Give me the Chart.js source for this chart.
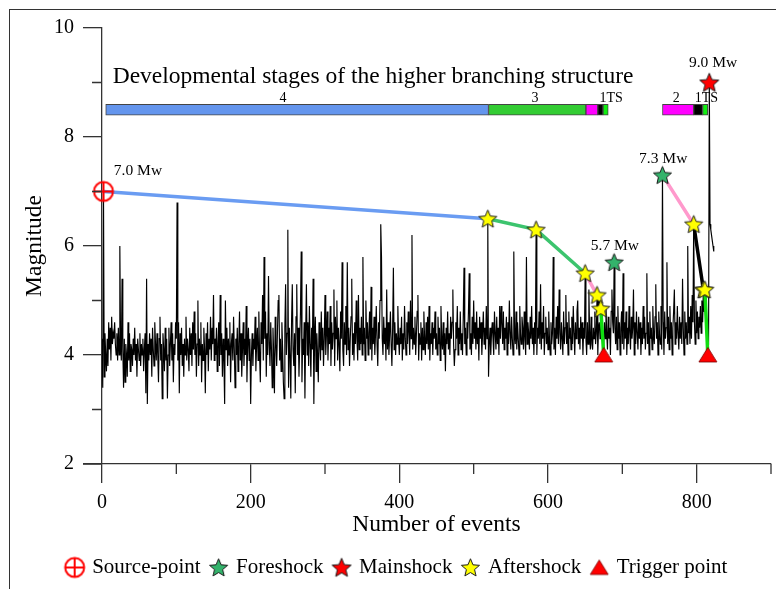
<!DOCTYPE html>
<html><head><meta charset="utf-8">
<script src="https://cdn.jsdelivr.net/npm/chart.js@4/dist/chart.umd.min.js"></script>
<style>
html,body{margin:0;padding:0;background:#fff;overflow:hidden}
#wrap{position:relative;width:776px;height:589px;overflow:hidden}
#frame{position:absolute;left:9px;top:9px;width:900px;height:900px;border-top:1px solid #333;border-left:1px solid #333}
canvas{position:absolute;left:0;top:0}
</style></head><body>
<div id="wrap"><div id="frame"></div><canvas id="c" width="776" height="589"></canvas></div>
<script>
// ---- magnitude of each event (index = event number) ----
const eventMagnitudes = [
4.3,3.4,7.0,3.6,4.4,4.0,3.7,4.3,3.8,4.6,4.1,4.5,3.9,4.7,4.2,4.4,4.3,4.6,4.2,4.0,4.4,3.9,4.5,4.0,6.0,
4.2,3.9,5.4,4.1,3.4,4.3,3.5,4.2,4.0,3.6,4.6,3.9,4.4,3.7,4.2,4.1,3.8,4.3,4.0,4.5,3.9,4.2,3.6,4.3,4.1,
3.9,4.4,3.8,4.2,4.0,4.3,3.7,4.1,4.4,3.3,5.4,3.1,4.2,3.9,4.4,4.0,4.3,3.6,4.5,4.1,3.8,4.6,4.2,3.9,4.4,
4.0,3.5,4.3,4.7,3.9,4.2,3.2,4.4,4.1,3.7,4.5,3.9,4.3,3.2,4.0,4.5,3.8,4.2,4.6,3.9,4.4,3.5,4.2,4.0,4.6,
4.3,6.8,3.9,4.6,3.3,4.4,4.0,4.5,3.8,4.2,3.6,4.3,4.0,4.7,3.9,4.3,4.1,3.7,4.5,4.0,4.4,3.8,4.6,4.1,4.8,
4.0,4.4,3.6,4.2,5.0,3.8,4.3,4.0,4.6,3.5,4.2,3.9,4.5,4.1,3.3,4.4,4.0,4.6,3.7,4.3,4.1,4.7,3.9,4.5,4.2,
5.1,3.9,4.3,4.0,4.5,3.7,4.2,4.6,3.8,5.1,4.0,4.4,3.6,4.3,3.9,3.1,5.0,4.1,4.5,3.8,4.3,4.0,4.6,3.5,4.2,
4.4,3.9,4.7,4.1,3.4,4.3,4.0,4.5,3.7,4.2,4.8,3.9,4.4,3.6,4.1,4.6,3.8,4.3,4.0,4.9,3.5,4.2,4.5,3.9,4.3,
3.1,4.0,4.4,3.8,4.3,4.1,4.7,3.7,4.2,4.5,3.9,4.8,4.0,3.5,4.6,4.2,5.1,3.9,5.8,4.3,4.8,3.6,4.4,4.0,5.45,
4.2,3.8,4.6,4.1,3.4,4.5,4.0,3.3,4.7,4.2,3.8,4.4,5.0,5.1,3.9,4.3,3.7,4.6,4.1,3.5,3.2,4.5,5.3,4.0,4.4,
6.3,3.4,4.5,4.0,3.2,4.6,5.3,4.1,3.8,4.4,3.3,4.7,5.3,4.0,4.5,3.6,4.2,4.8,5.9,3.5,4.3,4.0,4.6,3.2,4.4,
5.3,4.0,4.6,3.8,4.9,4.2,3.6,4.5,4.1,5.4,3.1,4.3,4.7,3.7,4.4,4.0,3.5,4.6,4.2,3.9,4.8,4.1,4.5,3.8,4.3,
5.1,4.0,4.4,4.8,3.9,4.5,4.2,4.9,3.8,4.6,4.1,4.4,5.2,3.8,4.7,4.3,5.0,3.9,4.5,4.2,3.7,4.8,4.3,5.7,4.1,
3.8,4.6,4.2,4.9,4.0,5.7,4.1,4.5,3.8,4.3,4.7,5.4,4.0,4.4,3.9,4.6,4.2,5.0,4.3,3.9,5.1,4.1,4.5,4.2,4.7,
4.0,5.8,4.2,4.5,3.9,5.0,4.3,4.6,4.0,4.4,4.8,4.1,5.25,3.9,4.5,4.2,4.7,4.0,4.4,4.9,4.2,3.8,4.6,4.3,5.0,
6.4,5.8,4.3,4.0,4.7,4.2,4.5,3.9,5.2,4.1,4.6,4.0,4.4,4.8,4.2,3.8,4.5,5.6,4.1,4.6,4.0,4.4,4.2,4.9,4.3,
4.0,4.5,4.2,4.7,3.9,4.4,4.1,4.9,4.3,4.0,4.6,4.2,4.8,4.4,4.0,5.0,4.3,6.2,4.1,4.5,4.2,4.7,4.0,4.4,4.8,
5.1,3.9,4.4,4.2,4.6,3.9,4.5,4.1,4.8,4.3,4.0,4.6,4.2,4.7,4.1,4.9,3.9,4.4,4.2,4.6,4.0,4.5,4.3,4.8,4.1,
4.4,4.0,4.7,4.2,4.5,3.9,4.9,4.3,4.1,4.6,4.0,4.4,3.7,4.5,4.2,4.8,4.1,4.4,4.0,4.7,4.3,4.6,5.2,4.2,3.8,
4.1,4.6,4.3,4.9,4.0,4.5,4.2,4.8,4.1,4.4,4.0,4.7,5.6,4.2,4.5,4.0,4.6,4.3,4.8,5.5,4.1,4.4,4.0,4.7,4.2,
5.0,4.3,4.6,4.1,4.8,4.2,4.5,3.9,4.7,4.3,4.6,4.0,4.4,4.8,4.2,4.5,4.1,4.9,4.3,6.5,3.6,4.2,4.5,4.0,4.4,
4.6,4.3,4.0,4.8,4.4,4.1,4.7,4.2,4.5,4.0,4.9,4.3,4.9,4.6,4.2,4.8,4.1,4.5,4.3,4.7,4.0,4.6,4.2,5.0,4.4,
4.1,4.7,4.3,4.0,5.9,4.4,4.2,4.8,4.1,4.6,4.3,4.0,4.9,4.4,4.2,4.7,4.5,4.1,4.8,4.3,4.0,5.8,4.2,4.6,4.4,
4.1,4.7,4.3,4.9,4.2,4.5,4.0,4.6,4.2,6.3,4.0,4.5,4.3,4.8,4.2,5.3,4.1,4.6,4.3,4.9,4.0,4.4,4.7,4.2,4.5,
4.1,4.8,4.3,4.0,4.6,4.2,4.4,5.8,4.1,4.5,4.0,4.7,4.3,4.9,4.2,5.2,4.4,4.1,4.6,4.3,4.0,4.8,4.2,4.5,5.1,
4.2,4.6,4.0,4.8,4.3,4.5,4.1,4.7,4.2,4.9,4.4,4.0,4.6,4.3,4.8,5.0,4.2,4.5,4.1,4.7,4.3,4.6,4.0,4.5,4.3,
5.5,4.3,4.0,4.6,4.2,5.2,4.4,4.1,4.7,4.2,4.1,4.5,4.3,4.8,4.2,4.4,5.1,4.0,4.5,4.6,4.3,4.85,4.4,4.6,4.1,
4.2,4.6,4.3,4.9,4.4,4.1,4.7,4.3,4.5,4.0,4.8,5.2,4.6,4.4,5.7,4.5,4.2,4.7,4.1,4.9,4.3,4.6,4.0,4.5,4.8,
4.2,5.5,4.1,4.6,4.3,4.8,4.0,4.5,4.2,4.9,4.4,4.1,4.7,4.3,4.5,5.2,4.0,4.6,4.2,4.8,4.4,4.1,4.7,4.3,4.6,
4.0,4.5,4.2,4.9,4.3,4.7,4.1,4.4,5.5,4.2,4.6,4.0,4.8,4.3,4.5,4.1,4.9,4.4,4.2,4.7,5.3,4.3,4.6,4.0,4.8,
4.4,4.2,4.9,4.1,7.3,4.6,4.0,4.8,4.3,4.5,5.7,4.2,4.7,4.1,4.9,4.3,4.6,4.0,4.5,4.8,5.2,4.2,4.6,4.3,4.9,
4.4,4.1,4.7,4.3,4.6,4.2,5.4,4.5,4.0,4.8,4.3,4.6,4.2,6.0,4.4,4.7,4.2,4.9,4.3,5.1,4.6,6.4,4.6,4.2,5.0,
4.4,4.8,4.3,4.7,4.5,4.9,4.4,5.0,4.6,5.2,4.8,5.2,4.7,4.5,4.3,4.1,4.2,9.0,6.4,6.3,6.2,6.1,6.0,5.9
];

// ---- classified events ----
const sourceEvents = [2],             sourceMags = [7.0];
const foreshockEvents = [689, 754],   foreshockMags = [5.7, 7.3];
const mainshockEvents = [817],        mainshockMags = [9.0];
const aftershockEvents = [519, 584, 650, 666, 671, 796, 809, 811];
const aftershockMags   = [6.5, 6.3, 5.5, 5.1, 4.85, 6.4, 5.2, 5.2];
const triggerEvents = [675, 815],     triggerMags = [4.0, 4.0];

// ---- branching paths (events / magnitudes) ----
const stage4PathEvents = [2, 519],          stage4PathMags = [7.0, 6.5];
const stage3PathEvents = [519, 584, 650],   stage3PathMags = [6.5, 6.3, 5.5];
const stage2aPathEvents = [650, 666],       stage2aPathMags = [5.5, 5.1];
const stage1aPathEvents = [666, 671],       stage1aPathMags = [5.1, 4.85];
const tsaPathEvents = [671, 675],           tsaPathMags = [4.85, 4.0];
const stage2bPathEvents = [754, 796],       stage2bPathMags = [7.3, 6.4];
const stage1bPathEvents = [796, 809],       stage1bPathMags = [6.4, 5.2];
const tsbPathEvents = [811, 815],           tsbPathMags = [5.2, 4.0];

// ---- developmental stage bars (event ranges) ----
const stageBarStarts = [5, 520, 651, 667, 674, 754, 796, 808];
const stageBarEnds   = [520, 651, 667, 674, 681, 796, 808, 815];
const stageBarLevel = 8.5;

// ---- labels ----
const legendLabels = ['Source-point', 'Foreshock', 'Mainshock', 'Aftershock', 'Trigger point'];
const magnitudeTexts = ['7.0 Mw', '5.7 Mw', '7.3 Mw', '9.0 Mw'];
const stageTexts = ['4', '3', '1TS', '2', '1TS'];
const chartHeading = 'Developmental stages of the higher branching structure';
const minorXTicks = [100, 300, 500, 700, 900];
const minorYTicks = [3, 5, 7, 9];

const pts = (xs, ys) => xs.map((v, i) => ({x: v, y: ys[i]}));

// ---- marker images ----
function starImg(fill, stroke, R) {
  const s = Math.ceil(R * 2 + 4), c = document.createElement('canvas');
  c.width = s; c.height = s;
  const g = c.getContext('2d'), cx = s / 2, cy = s / 2 + R * 0.08, r = R * 0.45;
  g.beginPath();
  for (let i = 0; i < 10; i++) {
    const a = -Math.PI / 2 + i * Math.PI / 5, rr = i % 2 ? r : R;
    g.lineTo(cx + rr * Math.cos(a), cy + rr * Math.sin(a));
  }
  g.closePath(); g.fillStyle = fill; g.fill();
  g.lineWidth = 1; g.strokeStyle = stroke; g.stroke();
  return c;
}
function crossCircleImg() {
  const s = 24, c = document.createElement('canvas'); c.width = s; c.height = s;
  const g = c.getContext('2d'); g.strokeStyle = '#ff0000'; g.lineWidth = 2;
  g.beginPath(); g.arc(12, 12, 9.5, 0, Math.PI * 2); g.stroke();
  g.beginPath(); g.moveTo(2.5, 12); g.lineTo(21.5, 12); g.moveTo(12, 2.5); g.lineTo(12, 21.5); g.stroke();
  return c;
}
function triangleImg() {
  const c = document.createElement('canvas'); c.width = 22; c.height = 18;
  const g = c.getContext('2d');
  g.beginPath(); g.moveTo(11, 1.5); g.lineTo(20, 16); g.lineTo(2, 16); g.closePath();
  g.fillStyle = '#ff0000'; g.fill(); g.strokeStyle = '#7a0000'; g.lineWidth = 0.8; g.stroke();
  return c;
}
const imgSource = crossCircleImg();
const imgFore = starImg('#33b36b', '#1a1a1a', 9.5);
const imgMain = starImg('#ff0000', '#1a1a1a', 10);
const imgAfter = starImg('#ffff00', '#1a1a1a', 9.5);
const imgTrig = triangleImg();

Chart.defaults.font.family = "'Liberation Serif', 'Times New Roman', serif";
Chart.defaults.color = '#000';

const marker = (label, data, img) => ({
  type: 'line', label, data, showLine: false, pointStyle: img, pointRadius: 1, pointBorderWidth: 0,
  pointHoverRadius: 1, borderWidth: 0, borderColor: '#000', backgroundColor: '#000', clip: false
});
const path = (data, color) => ({
  type: 'line', label: '', data, borderColor: color, borderWidth: 3.5, pointRadius: 0, pointHoverRadius: 0,
  fill: false, tension: 0, borderCapStyle: 'round'
});

const texts = [
  {t: chartHeading, at: [14.4, 8.99], size: 23.5, align: 'left'},
  {t: stageTexts[0], at: [243.5, 8.65], size: 14, align: 'center'},
  {t: stageTexts[1], at: [582.5, 8.65], size: 14, align: 'center'},
  {t: stageTexts[2], at: [685, 8.65], size: 14, align: 'center'},
  {t: stageTexts[3], at: [772.7, 8.65], size: 14, align: 'center'},
  {t: stageTexts[4], at: [813, 8.65], size: 14, align: 'center'},
  {t: magnitudeTexts[0], at: [48.4, 7.30], size: 15.5, align: 'center'},
  {t: magnitudeTexts[1], at: [690, 5.93], size: 15.5, align: 'center'},
  {t: magnitudeTexts[2], at: [755, 7.53], size: 15.5, align: 'center'},
  {t: magnitudeTexts[3], at: [822, 9.28], size: 15.5, align: 'center'}
];

const decor = {
  id: 'decor',
  afterLayout(chart) {
    if (chart.legend) { chart.legend.left += 12; chart.legend.right += 12; }
  },
  afterDraw(chart) {
    const {ctx, scales: {x, y}, chartArea: a} = chart;
    ctx.save();
    ctx.strokeStyle = '#333'; ctx.lineWidth = 1.3;
    ctx.beginPath();
    ctx.moveTo(a.left - 19, a.bottom); ctx.lineTo(a.left, a.bottom);
    minorXTicks.forEach(v => { const p = x.getPixelForValue(v); ctx.moveTo(p, a.bottom); ctx.lineTo(p, a.bottom + 10); });
    minorYTicks.forEach(v => { const p = y.getPixelForValue(v); ctx.moveTo(a.left - 10, p); ctx.lineTo(a.left, p); });
    ctx.stroke();
    ctx.fillStyle = '#000'; ctx.textBaseline = 'alphabetic';
    texts.forEach(o => {
      ctx.font = o.size + "px 'Liberation Serif'";
      ctx.textAlign = o.align;
      ctx.fillText(o.t, x.getPixelForValue(o.at[0]), y.getPixelForValue(o.at[1]));
    });
    ctx.restore();
  }
};

new Chart(document.getElementById('c'), {
  type: 'line',
  data: {
    datasets: [
      marker(legendLabels[0], pts(sourceEvents, sourceMags), imgSource),
      marker(legendLabels[1], pts(foreshockEvents, foreshockMags), imgFore),
      marker(legendLabels[2], pts(mainshockEvents, mainshockMags), imgMain),
      marker(legendLabels[3], pts(aftershockEvents, aftershockMags), imgAfter),
      marker(legendLabels[4], pts(triggerEvents, triggerMags), imgTrig),
      path(pts(stage4PathEvents, stage4PathMags), '#6a9cf2'),
      path(pts(stage3PathEvents, stage3PathMags), '#3cc46e'),
      path(pts(stage2aPathEvents, stage2aPathMags), '#ff99cc'),
      path(pts(stage1aPathEvents, stage1aPathMags), '#000000'),
      path(pts(tsaPathEvents, tsaPathMags), '#11dd11'),
      path(pts(stage2bPathEvents, stage2bPathMags), '#ff99cc'),
      path(pts(stage1bPathEvents, stage1bPathMags), '#000000'),
      path(pts(tsbPathEvents, tsbPathMags), '#11dd11'),
      {
        type: 'bar', label: '', indexAxis: 'y',
        data: stageBarStarts.map((s, i) => ({x: [s, stageBarEnds[i]], y: stageBarLevel})),
        backgroundColor: ['#6495ed', '#33cc33', '#ff00ff', '#000000', '#11ee11', '#ff00ff', '#000000', '#11ee11'],
        borderColor: '#444', borderWidth: 1, borderSkipped: false, barThickness: 11
      },
      {
        type: 'line', label: '', data: eventMagnitudes.map((m, i) => ({x: i, y: m})),
        borderColor: '#000', borderWidth: 1.15, pointRadius: 0, pointHoverRadius: 0, tension: 0, fill: false
      }
    ]
  },
  options: {
    responsive: false, animation: false, devicePixelRatio: 1, events: [],
    layout: {padding: {top: 28, right: 5, left: 0, bottom: 1}},
    scales: {
      x: {
        type: 'linear', min: 0, max: 900, offset: false, beginAtZero: false,
        afterFit: s => { s.height = 82; s.paddingLeft = 0; s.paddingRight = 0; },
        ticks: {stepSize: 200, includeBounds: false, padding: 10, font: {size: 20, lineHeight: 1}, color: '#000', maxRotation: 0},
        grid: {offset: false, drawOnChartArea: false, drawTicks: true, tickLength: 19, color: '#333', lineWidth: 1.3},
        border: {display: true, color: '#333', width: 1.3},
        title: {display: true, text: 'Number of events', font: {size: 23.5, lineHeight: 1}, color: '#000', padding: {top: 0, bottom: 9.25}}
      },
      y: {
        type: 'linear', min: 2, max: 10, offset: false,
        afterFit: s => { s.width = 102; s.paddingTop = 0; s.paddingBottom = 0; },
        ticks: {stepSize: 2, padding: 9, font: {size: 20, lineHeight: 1}, color: '#000'},
        grid: {offset: false, drawOnChartArea: false, drawTicks: true, tickLength: 19, color: '#333', lineWidth: 1.3},
        border: {display: true, color: '#333', width: 1.3},
        title: {display: true, text: 'Magnitude', font: {size: 23.5, lineHeight: 1}, color: '#000', padding: {top: 23.25, bottom: 0}}
      }
    },
    plugins: {
      legend: {
        display: true, position: 'bottom',
        labels: {
          usePointStyle: true, pointStyleWidth: 14, padding: 11,
          font: {size: 21}, color: '#000',
          filter: item => item.datasetIndex < 5
        }
      },
      tooltip: {enabled: false},
      title: {display: false}
    }
  },
  plugins: [decor]
});
</script>
</body></html>
